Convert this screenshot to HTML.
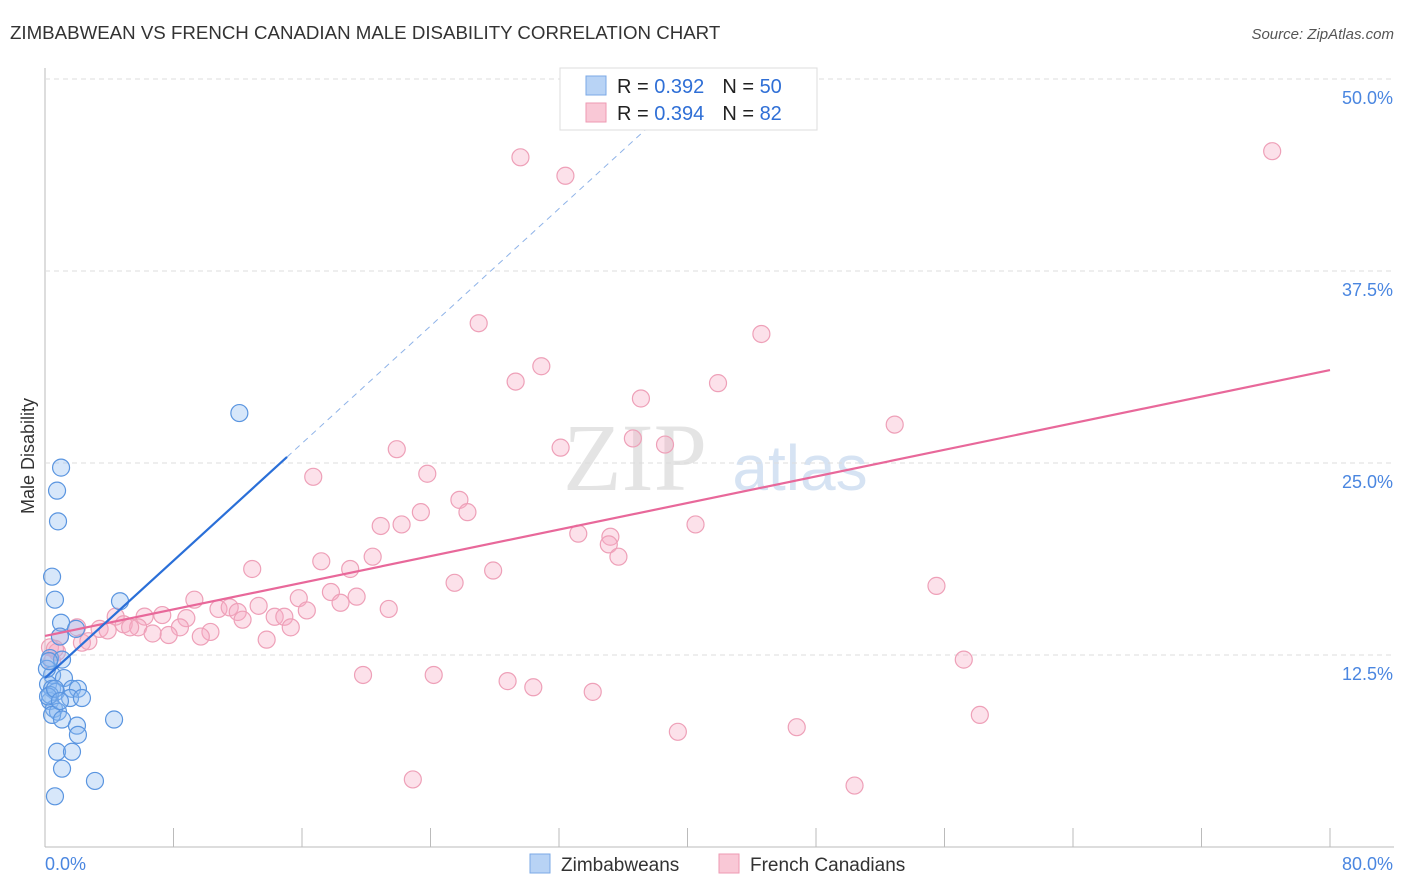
<!DOCTYPE html>
<html><head><meta charset="utf-8">
<style>
body{margin:0;background:#fff;font-family:"Liberation Sans",sans-serif;}
svg{display:block}
</style></head>
<body>
<svg id="chart" width="1406" height="892">
<text x="10" y="39" font-size="18.7" fill="#333">ZIMBABWEAN VS FRENCH CANADIAN MALE DISABILITY CORRELATION CHART</text>
<text x="1394" y="39" font-size="15" fill="#555" font-style="italic" text-anchor="end">Source: ZipAtlas.com</text>
<text x="34" y="456" font-size="18" fill="#333" text-anchor="middle" transform="rotate(-90 34 456)">Male Disability</text>
<text x="635" y="490" font-size="96" fill="#e4e4e4" font-family="Liberation Serif,serif" text-anchor="middle">ZIP</text>
<text x="800" y="490" font-size="64" fill="#d6e3f3" text-anchor="middle">atlas</text>
<g id="grid"></g>
<g id="pts"></g>
<g id="lines"></g>
<g>
<rect x="560" y="68" width="257" height="62" fill="#fff" stroke="#ddd"/>
<rect x="586" y="76" width="20" height="19" fill="#b8d3f5" stroke="#7ba8e6"/>
<rect x="586" y="103" width="20" height="19" fill="#f9c8d6" stroke="#ee9ab3"/>
<text x="617" y="93" font-size="20" fill="#222">R = <tspan fill="#2f6fd6">0.392</tspan><tspan dx="18">N = </tspan><tspan fill="#2f6fd6">50</tspan></text>
<text x="617" y="120" font-size="20" fill="#222">R = <tspan fill="#2f6fd6">0.394</tspan><tspan dx="18">N = </tspan><tspan fill="#2f6fd6"> 82</tspan></text>
</g>
<g>
<rect x="530" y="854" width="20" height="19" fill="#b8d3f5" stroke="#7ba8e6"/>
<text x="561" y="871" font-size="19" fill="#333">Zimbabweans</text>
<rect x="719" y="854" width="20" height="19" fill="#f9c8d6" stroke="#ee9ab3"/>
<text x="750" y="871" font-size="19" fill="#333">French Canadians</text>
</g>
</svg>
<script>
const yTicks=[12.5,25,37.5,50];
const yTickLabels=["12.5%","25.0%","37.5%","50.0%"];
const xTickLabels=["0.0%","80.0%"];
const blueX=[12.1,1.0,0.75,0.81,0.44,0.62,4.67,1.0,1.93,0.93,0.31,1.06,0.44,1.18,1.68,2.05,0.19,0.44,0.68,0.31,1.56,2.3,0.56,0.81,0.44,1.06,4.30,1.99,2.05,0.75,1.68,1.06,3.11,0.62,0.31,0.19,0.62,0.93,0.12,0.25];
const blueY=[28.25,24.7,23.2,21.2,17.6,16.1,16.0,14.6,14.2,13.7,12.3,12.2,11.2,11.0,10.3,10.3,10.6,10.3,10.1,9.5,9.7,9.7,9.0,8.8,8.6,8.3,8.3,7.9,7.3,6.2,6.2,5.1,4.3,3.3,9.9,9.8,10.3,9.5,11.6,12.1];
const pinkX=[29.6,32.4,76.4,27.0,44.6,30.9,29.3,41.9,37.1,21.9,36.6,38.6,32.1,52.9,23.8,16.7,25.8,26.3,23.4,22.2,20.9,40.5,33.2,35.2,35.1,35.7,17.2,20.4,19.0,27.9,12.9,25.5,55.5,17.8,19.4,9.3,15.8,18.4,13.3,21.4,10.8,11.5,12.0,7.3,8.8,6.2,14.3,14.9,16.3,12.3,4.4,4.9,5.8,15.3,8.4,10.3,5.3,3.4,2.0,3.9,7.7,6.7,9.7,13.8,2.3,2.7,0.93,0.31,0.75,57.2,19.8,24.2,28.8,30.4,34.1,58.2,39.4,46.8,22.9,50.4,0.44,0.62];
const pinkY=[44.9,43.7,45.3,34.1,33.4,31.3,30.3,30.2,29.2,25.9,26.6,26.2,26.0,27.5,24.3,24.1,22.6,21.8,21.8,21.0,20.9,21.0,20.4,20.2,19.7,18.9,18.6,18.9,18.1,18.0,18.1,17.2,17.0,16.6,16.3,16.1,16.2,15.9,15.7,15.5,15.5,15.6,15.3,15.1,14.9,15.0,14.99,14.99,15.4,14.8,15.0,14.5,14.3,14.3,14.3,14.0,14.3,14.2,14.3,14.1,13.8,13.9,13.7,13.5,13.3,13.4,13.7,13.0,12.7,12.2,11.2,11.2,10.8,10.4,10.1,8.6,7.5,7.8,4.4,4.0,12.1,12.9];
const blueFit=[11.0,0.955], pinkFit=[13.74,0.2164];
const NS="http://www.w3.org/2000/svg";
const X0=45,X1=1330,Y0=847,PY=15.36;
const sx=v=>X0+(X1-X0)*v/80, sy=v=>Y0-v*PY;
function mk(t,a,p){const e=document.createElementNS(NS,t);for(const k in a)e.setAttribute(k,a[k]);p.appendChild(e);return e;}
const grid=document.getElementById('grid');
mk('line',{x1:45,y1:68,x2:45,y2:847,stroke:'#bbb'},grid);
mk('line',{x1:45,y1:847,x2:1394,y2:847,stroke:'#bbb'},grid);
yTicks.forEach((t,i)=>{
 const gl=mk('line',{x1:45,y1:sy(t),x2:1394,y2:sy(t),stroke:'#ddd','stroke-dasharray':'5,4'},grid);
 
 
 const tx=mk('text',{x:1393,y:sy(t)+25,'font-size':18,fill:'#4a86e0','text-anchor':'end'},grid);
 tx.textContent=yTickLabels[i];
 
 
});
for(let i=1;i<=10;i++){const x=sx(i*8);const tk=mk('line',{x1:x,y1:828,x2:x,y2:847,stroke:'#bbb'},grid);
 
 }
const xl0=mk('text',{x:45,y:870,'font-size':18,fill:'#4a86e0'},grid);xl0.textContent=xTickLabels[0];


const xl1=mk('text',{x:1393,y:870,'font-size':18,fill:'#4a86e0','text-anchor':'end'},grid);xl1.textContent=xTickLabels[1];


const pts=document.getElementById('pts');
pinkX.forEach((x,i)=>{const c=mk('circle',{cx:sx(x),cy:sy(pinkY[i]),r:8.5,fill:'rgba(246,170,195,0.35)',stroke:'#eea0b8','stroke-width':1.2},pts);
 
 });
blueX.forEach((x,i)=>{const c=mk('circle',{cx:sx(x),cy:sy(blueY[i]),r:8.5,fill:'rgba(140,185,240,0.35)',stroke:'#5a95e0','stroke-width':1.2},pts);
 
 });
const L=document.getElementById('lines');
const pl=mk('line',{x1:sx(0),y1:sy(pinkFit[0]),x2:sx(80),y2:sy(pinkFit[0]+pinkFit[1]*80),stroke:'#e8689a','stroke-width':2.2},L);


const bl=mk('line',{x1:sx(0),y1:sy(blueFit[0]),x2:sx(15.07),y2:sy(blueFit[0]+blueFit[1]*15.07),stroke:'#2a6fd8','stroke-width':2.2},L);


const bd=mk('line',{x1:sx(15.07),y1:sy(blueFit[0]+blueFit[1]*15.07),x2:sx(38.5),y2:sy(blueFit[0]+blueFit[1]*38.5),stroke:'#8fb3e8','stroke-width':1,'stroke-dasharray':'6,5'},L);


</script>
</body></html>
